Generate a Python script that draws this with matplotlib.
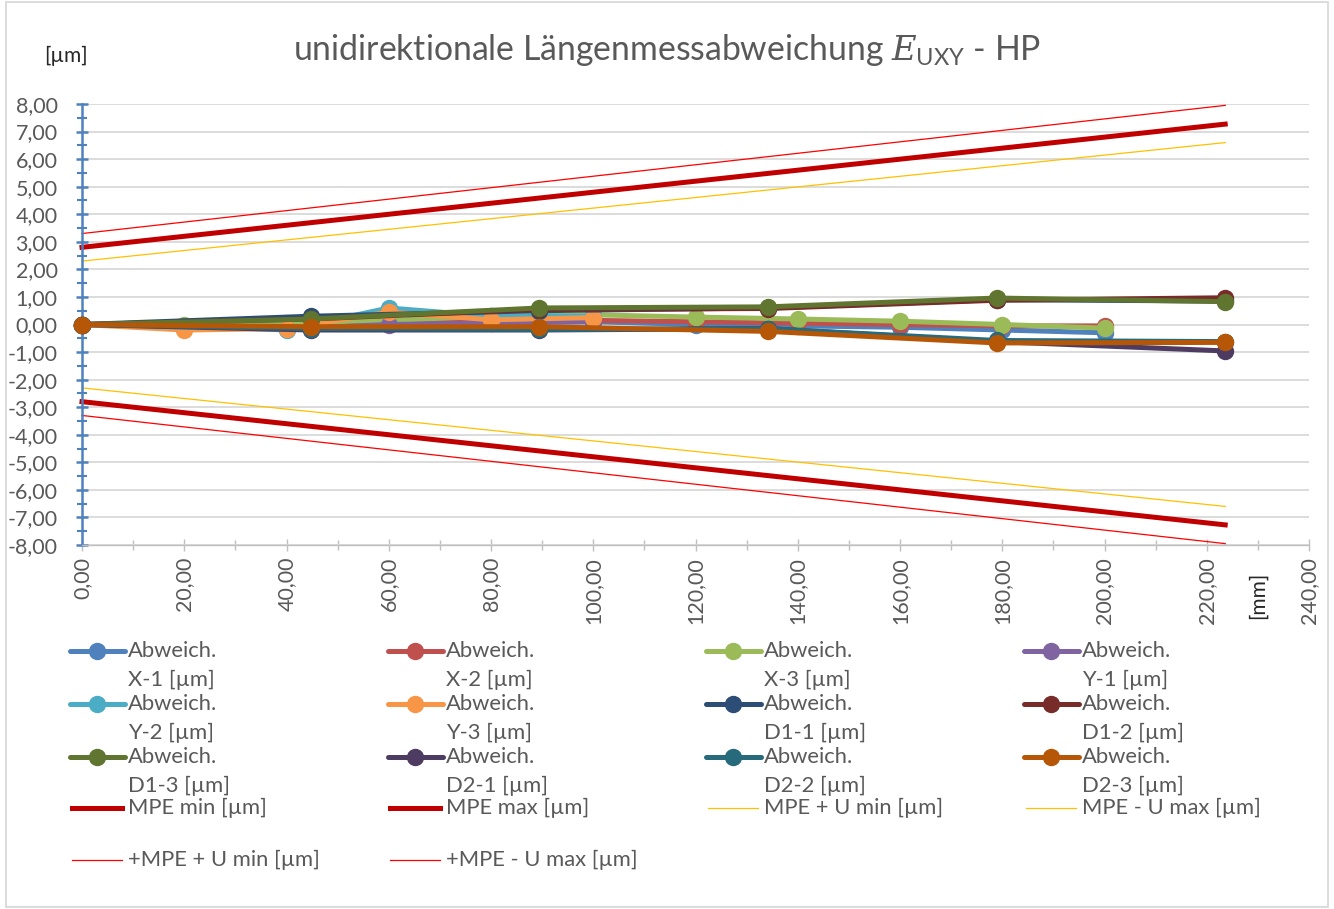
import matplotlib
matplotlib.use("Agg")
import matplotlib.pyplot as plt
from matplotlib.lines import Line2D
from matplotlib.patches import Rectangle
from matplotlib.ticker import MultipleLocator, FuncFormatter

plt.rcParams['font.family'] = ['Lato', 'DejaVu Sans']
plt.rcParams['mathtext.fontset'] = 'custom'
plt.rcParams['mathtext.it'] = 'DejaVu Serif:italic'
plt.rcParams['mathtext.rm'] = 'Lato'

# measuring positions [mm]
x_axis_pos = [0, 20, 40, 60, 80, 100, 120, 140, 160, 180, 200]
y_axis_pos = [0, 20, 40, 60, 80, 100]
diag_pos = [0, 44.72, 89.44, 134.16, 178.89, 223.61]
mpe_pos = [0, 223.61]

# deviations [um]
dev_x1 = [0, -0.05, -0.05, 0.05, 0.1, 0.1, 0.0, -0.05, -0.1, -0.2, -0.3]
dev_x2 = [0, -0.05, 0.0, 0.1, 0.2, 0.15, 0.1, 0.05, 0.0, -0.05, -0.05]
dev_x3 = [0, 0.0, 0.05, 0.15, 0.3, 0.35, 0.27, 0.2, 0.12, 0.0, -0.13]
dev_y1 = [0, -0.1, -0.15, 0.0, 0.05, 0.1]
dev_y2 = [0, -0.05, -0.2, 0.6, 0.3, 0.3]
dev_y3 = [0, -0.2, -0.15, 0.45, 0.17, 0.25]
dev_d11 = [0, 0.3, 0.5, 0.6, 0.9, 0.85]
dev_d12 = [0, 0.2, 0.55, 0.58, 0.88, 0.97]
dev_d13 = [0, 0.2, 0.6, 0.64, 0.96, 0.83]
dev_d21 = [0, -0.2, -0.2, -0.15, -0.62, -0.96]
dev_d22 = [0, -0.15, -0.18, -0.15, -0.58, -0.62]
dev_d23 = [0, -0.08, -0.08, -0.25, -0.67, -0.65]

mpe_min = [-2.8, -7.27]
mpe_max = [2.8, 7.27]
mpe_plus_u_min = [-2.3, -6.6]
mpe_minus_u_max = [2.3, 6.6]
pmpe_plus_u_min = [-3.3, -7.95]
pmpe_minus_u_max = [3.3, 7.95]

series = [
    ("X-1", x_axis_pos, dev_x1, "#4F81BD"),
    ("X-2", x_axis_pos, dev_x2, "#C0504D"),
    ("X-3", x_axis_pos, dev_x3, "#9BBB59"),
    ("Y-1", y_axis_pos, dev_y1, "#8064A2"),
    ("Y-2", y_axis_pos, dev_y2, "#4BACC6"),
    ("Y-3", y_axis_pos, dev_y3, "#F79646"),
    ("D1-1", diag_pos, dev_d11, "#2C4D75"),
    ("D1-2", diag_pos, dev_d12, "#772C2A"),
    ("D1-3", diag_pos, dev_d13, "#5F7530"),
    ("D2-1", diag_pos, dev_d21, "#4D3B62"),
    ("D2-2", diag_pos, dev_d22, "#276A7C"),
    ("D2-3", diag_pos, dev_d23, "#B65708"),
]
limits = [
    ("MPE min [µm]", mpe_min, "#C00000", 3.6),
    ("MPE max [µm]", mpe_max, "#C00000", 3.6),
    ("MPE + U min [µm]", mpe_plus_u_min, "#FFC000", 0.9),
    ("MPE - U max [µm]", mpe_minus_u_max, "#FFC000", 0.9),
    ("+MPE + U min [µm]", pmpe_plus_u_min, "#FF0000", 0.9),
    ("+MPE - U max [µm]", pmpe_minus_u_max, "#FF0000", 0.9),
]

W, H = 1334, 909
fig = plt.figure(figsize=(W / 100, H / 100), dpi=100)
ax = fig.add_axes([82 / W, 1 - 545 / H, (1309 - 82) / W, (545 - 104) / H])

def fx(px):
    return px / W

def fy(py):
    return 1 - py / H

grey = "#595959"

for name, xs, ys, col in series:
    ax.plot(xs, ys, color=col, lw=3.6, marker="o", ms=11.5, mec=col, mfc=col,
            solid_capstyle="round", zorder=3, clip_on=False)
for name, ys, col, lw in limits:
    ax.plot(mpe_pos, ys, color=col, lw=lw, zorder=2, clip_on=False)

ax.set_xlim(0, 240)
ax.set_ylim(-8, 8)
ax.yaxis.set_major_locator(MultipleLocator(1))
ax.yaxis.set_minor_locator(MultipleLocator(0.5))
ax.xaxis.set_major_locator(MultipleLocator(20))
ax.xaxis.set_minor_locator(MultipleLocator(10))
comma = FuncFormatter(lambda v, p: f"{v:.2f}".replace(".", ","))
ax.yaxis.set_major_formatter(comma)
ax.xaxis.set_major_formatter(comma)
ax.grid(axis="y", color="#D9D9D9", lw=1.3, zorder=0)
ax.set_axisbelow(True)
for s in ["top", "right"]:
    ax.spines[s].set_visible(False)
ax.spines["left"].set_color("#4F81BD")
ax.spines["left"].set_linewidth(1.8)
ax.spines["bottom"].set_color("#BFBFBF")
ax.spines["bottom"].set_linewidth(1.0)
ax.tick_params(axis="y", which="major", direction="inout", length=9, width=1.8,
               color="#4F81BD", labelsize=15.5, labelcolor=grey, pad=13)
ax.tick_params(axis="y", which="minor", direction="inout", length=7, width=1.5,
               color="#4F81BD")
ax.tick_params(axis="x", which="major", direction="inout", length=9, width=1.0,
               color="#BFBFBF", labelsize=15.5, labelcolor=grey, pad=4,
               labelrotation=90)
ax.tick_params(axis="x", which="minor", direction="inout", length=7, width=1.0,
               color="#BFBFBF")

fig.text(fx(667), fy(50), r"unidirektionale Längenmessabweichung $\mathit{E}_{\mathrm{UXY}}$ - HP",
         ha="center", va="center", fontsize=24.3, color=grey)
fig.text(fx(66), fy(56), "[µm]", ha="center", va="center", fontsize=15, color="#262626")
fig.text(fx(1258), fy(595), "[mm]", ha="center", va="center", fontsize=15, color="#262626",
         rotation=90)

# legend, drawn by hand in 4 columns
col_x = [70, 388, 706, 1024]
row_y = [651, 704, 757]
for i, (name, xs, ys, col) in enumerate(series):
    cx = col_x[i % 4]
    ry = row_y[i // 4]
    fig.add_artist(Line2D([fx(cx), fx(cx + 55)], [fy(ry), fy(ry)], color=col, lw=3.6,
                          solid_capstyle="round"))
    fig.add_artist(Line2D([fx(cx + 27)], [fy(ry)], marker="o", ms=11.5, color=col))
    fig.text(fx(cx + 58), fy(ry), "Abweich.", ha="left", va="center", fontsize=15.8, color=grey)
    fig.text(fx(cx + 58), fy(ry + 29), f"{name} [µm]", ha="left", va="center", fontsize=15.8,
             color=grey)
for i, (name, ys, col, lw) in enumerate(limits):
    cx = col_x[i % 4]
    ry = [808, 860][i // 4]
    fig.add_artist(Line2D([fx(cx + 2), fx(cx + 52)], [fy(ry), fy(ry)], color=col, lw=lw))
    fig.text(fx(cx + 58), fy(ry), name, ha="left", va="center", fontsize=15.8, color=grey)

fig.add_artist(Rectangle((fx(6), fy(907)), fx(1328) - fx(6), fy(2) - fy(907),
                         transform=fig.transFigure, fill=False, edgecolor="#D9D9D9", lw=1.3))

fig.savefig("out.png", dpi=100)
